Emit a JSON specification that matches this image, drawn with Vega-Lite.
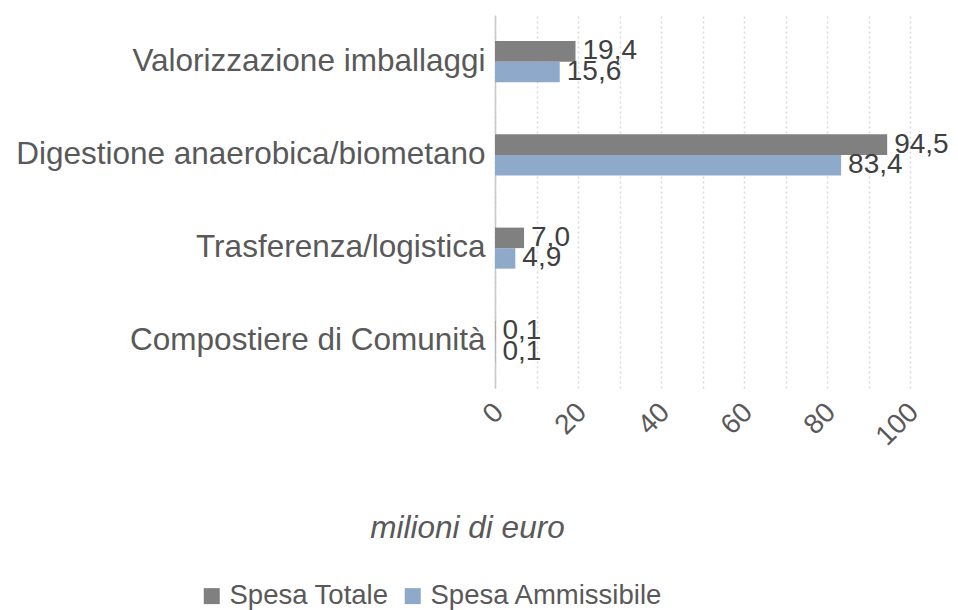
{
  "$schema": "https://vega.github.io/schema/vega-lite/v6.json",
  "width": 415,
  "height": 373,
  "autosize": "none",
  "padding": {"left": 495, "top": 15, "right": 48, "bottom": 222},
  "background": "white",
  "config": {
    "view": {"stroke": null},
    "font": "Liberation Sans",
    "text": {"font": "Liberation Sans"}
  },
  "data": {
    "values": [
      {"categoria": "Valorizzazione imballaggi", "serie": "Spesa Totale", "valore": 19.4, "etichetta": "19,4"},
      {"categoria": "Valorizzazione imballaggi", "serie": "Spesa Ammissibile", "valore": 15.6, "etichetta": "15,6"},
      {"categoria": "Digestione anaerobica/biometano", "serie": "Spesa Totale", "valore": 94.5, "etichetta": "94,5"},
      {"categoria": "Digestione anaerobica/biometano", "serie": "Spesa Ammissibile", "valore": 83.4, "etichetta": "83,4"},
      {"categoria": "Trasferenza/logistica", "serie": "Spesa Totale", "valore": 7.0, "etichetta": "7,0"},
      {"categoria": "Trasferenza/logistica", "serie": "Spesa Ammissibile", "valore": 4.9, "etichetta": "4,9"},
      {"categoria": "Compostiere di Comunità", "serie": "Spesa Totale", "valore": 0.1, "etichetta": "0,1"},
      {"categoria": "Compostiere di Comunità", "serie": "Spesa Ammissibile", "valore": 0.1, "etichetta": "0,1"}
    ]
  },
  "encoding": {
    "y": {
      "field": "categoria",
      "type": "nominal",
      "sort": ["Valorizzazione imballaggi", "Digestione anaerobica/biometano", "Trasferenza/logistica", "Compostiere di Comunità"],
      "scale": {"paddingInner": 0.56, "paddingOuter": 0.28},
      "axis": {
        "title": null,
        "domain": true,
        "domainColor": "#C8C8C8",
        "domainWidth": 1.5,
        "ticks": false,
        "grid": false,
        "labelFontSize": 31.5,
        "labelColor": "#595959",
        "labelPadding": 10,
        "labelFont": "Liberation Sans",
        "labelLimit": 600
      }
    },
    "yOffset": {
      "field": "serie",
      "type": "nominal",
      "sort": ["Spesa Totale", "Spesa Ammissibile"],
      "scale": {"paddingInner": 0, "paddingOuter": 0}
    },
    "x": {
      "field": "valore",
      "type": "quantitative",
      "scale": {"domain": [0, 100], "nice": false},
      "axis": {
        "values": [0, 10, 20, 30, 40, 50, 60, 70, 80, 90, 100],
        "labelExpr": "datum.value % 20 == 0 ? datum.label : ''",
        "domain": false,
        "ticks": false,
        "grid": true,
        "gridColor": "#D9D9D9",
        "gridDash": [2, 3],
        "gridWidth": 1.5,
        "labelAngle": -45,
        "labelFontSize": 28,
        "labelColor": "#595959",
        "labelPadding": 10,
        "labelOffset": -6,
        "labelFont": "Liberation Sans",
        "title": "milioni di euro",
        "titleFont": "Liberation Sans",
        "titleFontStyle": "italic",
        "titleFontWeight": "normal",
        "titleFontSize": 31.5,
        "titleColor": "#595959",
        "titleAlign": "center",
        "titleBaseline": "alphabetic",
        "titleX": -28,
        "titleY": 149
      }
    }
  },
  "layer": [
    {
      "mark": {"type": "bar"},
      "encoding": {
        "color": {
          "field": "serie",
          "type": "nominal",
          "scale": {"domain": ["Spesa Totale", "Spesa Ammissibile"], "range": ["#808080", "#8FA9CB"]},
          "legend": {
            "title": null,
            "orient": "none",
            "direction": "horizontal",
            "legendX": -297,
            "legendY": 567,
            "symbolType": "square",
            "symbolSize": 256,
            "symbolStrokeWidth": 0,
            "labelFontSize": 27.5,
            "labelColor": "#595959",
            "labelFont": "Liberation Sans",
            "labelOffset": 4,
            "columnPadding": 10,
            "labelLimit": 400
          }
        }
      }
    },
    {
      "mark": {"type": "text", "align": "left", "baseline": "middle", "dx": 7, "fontSize": 28, "color": "#404040", "font": "Liberation Sans"},
      "encoding": {
        "text": {"field": "etichetta", "type": "nominal"}
      }
    }
  ]
}
